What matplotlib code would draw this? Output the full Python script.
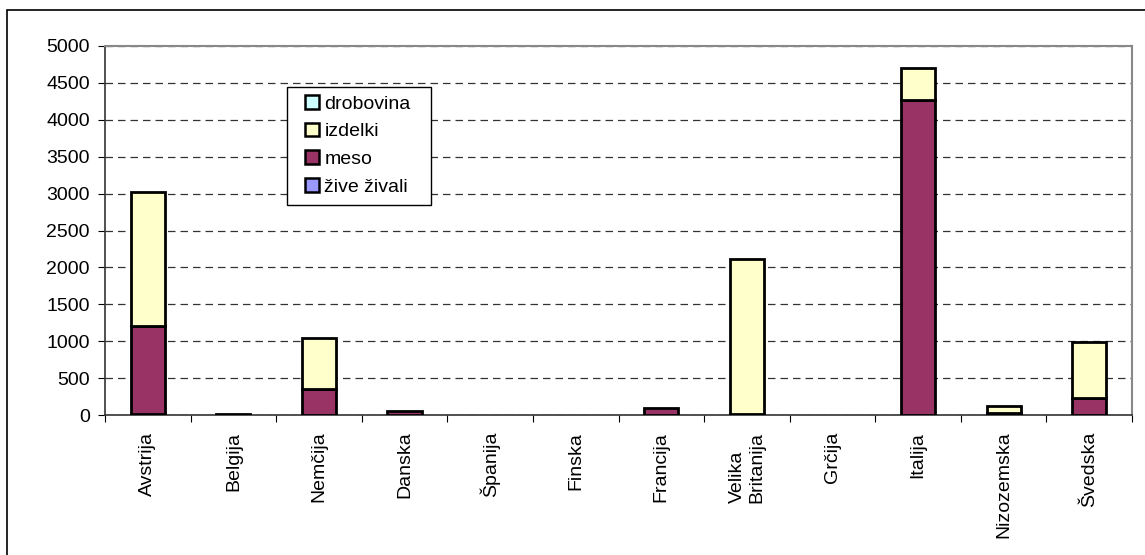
import numpy as np
import matplotlib
matplotlib.use("Agg")
import matplotlib.pyplot as plt
from matplotlib.patches import Rectangle

plt.rcParams['font.family'] = ['Liberation Sans', 'DejaVu Sans']

countries = ["Avstrija", "Belgija", "Nemčija", "Danska", "Španija", "Finska",
             "Francija", "Velika\nBritanija", "Grčija", "Italija", "Nizozemska", "Švedska"]

# stacked from bottom to top
zive_zivali = [20, 0, 0, 0, 0, 0, 0, 0, 0, 0, 0, 0]
meso        = [1190, 10, 350, 50, 0, 0, 90, 10, 0, 4270, 30, 230]
izdelki     = [1810, 0, 690, 0, 0, 0, 0, 2110, 0, 430, 90, 755]
drobovina   = [0, 0, 0, 0, 0, 0, 0, 0, 0, 0, 0, 0]

series = [("žive živali", zive_zivali, "#9999FF"),
          ("meso", meso, "#993366"),
          ("izdelki", izdelki, "#FFFFCC"),
          ("drobovina", drobovina, "#CCFFFF")]

W, H = 1145, 555
fig = plt.figure(figsize=(W / 100, H / 100), dpi=100)
# outer chart border (runs off the right and bottom edges)
fig.patches.append(Rectangle((7/W, -10/H), 1150/W, 555/H, transform=fig.transFigure,
                             fill=False, edgecolor="black", linewidth=1.2))

ax = fig.add_axes([105/W, 140/H, 1027/W, 369/H])
x = np.arange(len(countries))
bottom = np.zeros(len(countries))
handles = {}
for name, vals, col in series:
    vals = np.array(vals, dtype=float)
    keep = vals > 0
    ax.bar(x[keep], vals[keep], width=0.4, bottom=bottom[keep], color=col,
           edgecolor="black", linewidth=2, zorder=3)
    # proxy for legend so empty series still show up
    handles[name] = Rectangle((0, 0), 1, 1, facecolor=col, edgecolor="black", linewidth=1.8)
    bottom += vals

ax.set_xlim(-0.5, len(countries) - 0.5)
ax.set_ylim(0, 5000)
ax.set_yticks(np.arange(0, 5001, 500))
ax.yaxis.grid(True, linestyle=(0, (6, 4)), color="#333333", linewidth=0.9, zorder=0)
ax.tick_params(axis="y", direction="out", length=5, labelsize=14, pad=6)

# category labels between boundary ticks
ax.set_xticks(np.arange(-0.5, len(countries), 1.0))
ax.set_xticklabels([])
ax.tick_params(axis="x", direction="out", length=5)
ax.set_xticks(x, minor=True)
ax.set_xticklabels(countries, minor=True, rotation=90, fontsize=14, va="top", ha="center",
                   multialignment="left")
ax.tick_params(axis="x", which="minor", length=0, pad=12)

for s in ["left", "bottom"]:
    ax.spines[s].set_color("#333333")
    ax.spines[s].set_linewidth(1.2)
for s in ["top", "right"]:
    ax.spines[s].set_color("#888888")
    ax.spines[s].set_linewidth(1.5)

# legend box drawn by hand, Excel pads it more on the sides than on top
ax.add_patch(Rectangle((287/W, 1 - 205/H), 144/W, 118/H, transform=fig.transFigure,
                       facecolor="white", edgecolor="black", linewidth=1.0,
                       zorder=5, clip_on=False))
order = ["drobovina", "izdelki", "meso", "žive živali"]
leg = ax.legend([handles[n] for n in order], order, loc="upper left",
                bbox_to_anchor=(305/W, 1 - 95/H), bbox_transform=fig.transFigure,
                fontsize=14, frameon=False, handlelength=0.7, handleheight=0.7,
                handletextpad=0.3, labelspacing=0.52, borderpad=0, borderaxespad=0)
leg.set_zorder(6)

fig.savefig("out.png", dpi=100)
